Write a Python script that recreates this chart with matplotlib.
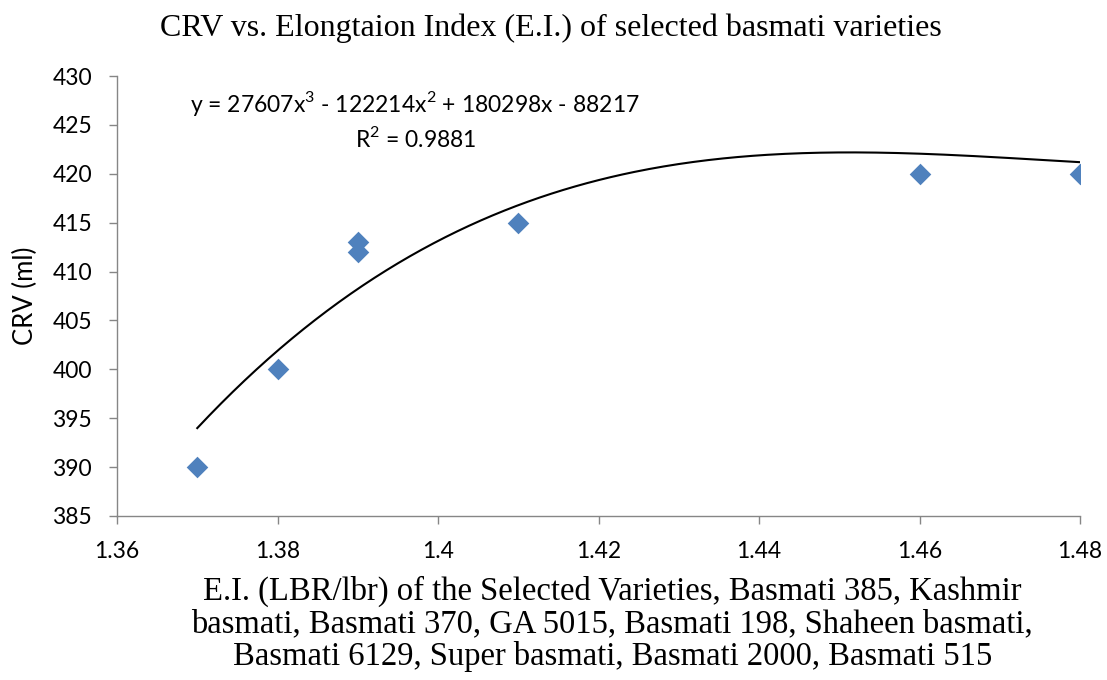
import numpy as np
import matplotlib
matplotlib.use("Agg")
import matplotlib.pyplot as plt

# E.I. (LBR/lbr) and CRV (ml) of the selected varieties
ei = [1.37, 1.38, 1.39, 1.39, 1.41, 1.46, 1.48]
crv = [390, 400, 413, 412, 415, 420, 420]

# cubic trendline as printed on the chart (cubic term within its rounding)
trend_coef = [27606.55, -122214, 180298, -88217]

xticks = [1.36, 1.38, 1.40, 1.42, 1.44, 1.46, 1.48]
xtick_labels = ["1.36", "1.38", "1.4", "1.42", "1.44", "1.46", "1.48"]
yticks = [385, 390, 395, 400, 405, 410, 415, 420, 425, 430]

eq_text = "y = 27607x$^3$ - 122214x$^2$ + 180298x - 88217"
r2_text = "R$^2$ = 0.9881"

fig = plt.figure(figsize=(11.07, 6.8), dpi=100)
ax = fig.add_axes([0.1057, 0.2412, 0.8700, 0.6470])

ax.scatter(ei, crv, marker="D", s=11**2, color="#4F81BD", zorder=3,
           linewidths=0)

xs = np.linspace(min(ei), max(ei), 300)
ax.plot(xs, np.polyval(trend_coef, xs), color="black", lw=1.5, zorder=2)

ax.set_xlim(1.36, 1.48)
ax.set_ylim(385, 430)
ax.set_xticks(xticks)
ax.set_xticklabels(xtick_labels)
ax.set_yticks(yticks)

for s in ["top", "right"]:
    ax.spines[s].set_visible(False)
for s in ["left", "bottom"]:
    ax.spines[s].set_color("#868686")
    ax.spines[s].set_linewidth(1.0)
ax.tick_params(axis="both", direction="out", length=6, width=1.0,
               color="#868686", labelsize=16.5)
ax.tick_params(axis="x", pad=12)
ax.tick_params(axis="y", pad=12)
for lab in ax.get_xticklabels() + ax.get_yticklabels():
    lab.set_family("Lato")

ax.set_ylabel("CRV (ml)", family="Lato", fontsize=18.5, labelpad=10)

fig.text(0.498, 0.959, "CRV vs. Elongtaion Index (E.I.) of selected basmati varieties",
         family="Liberation Serif", fontsize=23, ha="center", va="center")
fig.text(0.553, 0.083,
         "E.I. (LBR/lbr) of the Selected Varieties, Basmati 385, Kashmir\n"
         "basmati, Basmati 370, GA 5015, Basmati 198, Shaheen basmati,\n"
         "Basmati 6129, Super basmati, Basmati 2000, Basmati 515",
         family="Liberation Serif", fontsize=23.5, ha="center", va="center",
         linespacing=1.08)

plt.rcParams["mathtext.fontset"] = "custom"
plt.rcParams["mathtext.rm"] = "Lato"
ax.text(0.0758, 0.9386, eq_text, transform=ax.transAxes, family="Lato",
        fontsize=16.5, ha="left", va="center")
ax.text(0.3105, 0.859, r2_text, transform=ax.transAxes, family="Lato",
        fontsize=16.5, ha="center", va="center")

fig.savefig("out.png", dpi=100)
